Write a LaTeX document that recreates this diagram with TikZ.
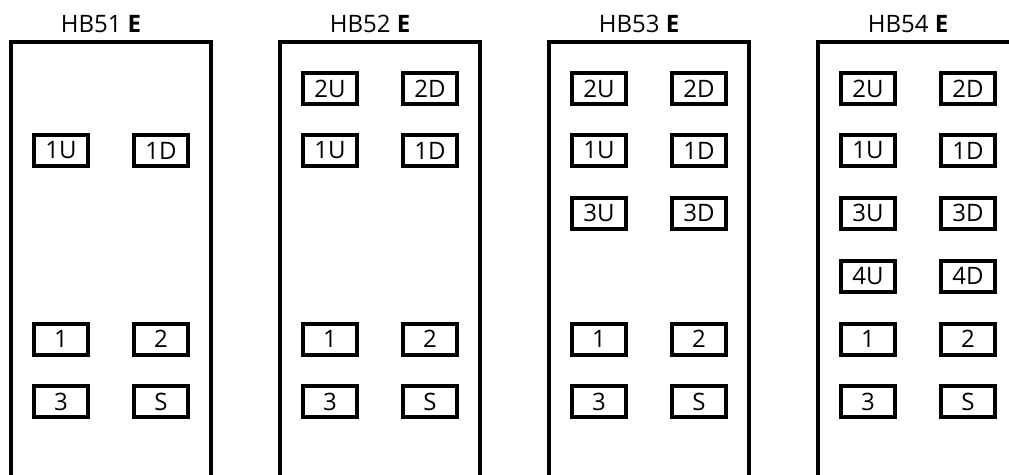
\documentclass[tikz,border=0pt]{standalone}
\usepackage{fontspec}
\setmainfont{Open Sans}
\usetikzlibrary{positioning}
\tikzset{
  panel/.style={line width=4pt},
  fuse/.style={draw, line width=4pt, minimum width=54pt, minimum height=31pt,
    inner sep=0pt, font=\fontsize{24}{26}\selectfont},
  title/.style={anchor=base, inner sep=0pt, font=\fontsize{24}{26}\selectfont},
}

\begin{document}
\begin{tikzpicture}[x=1pt, y=-1pt]
  \clip (0,0) rectangle (1009,474);
  \useasboundingbox (0,0) rectangle (1009,474);

  % Panels with their titles
  \foreach \n/\px in {1/11, 2/280, 3/549, 4/818} {
    \draw[panel] (\px,490) |- (\px+200,41.7) -- (\px+200,490);
    \node[title] (t\n) at (\px+90,32) {HB5\n\ \textbf{E}};
  }

  % HB51
  \foreach \l/\r/\y in {1U/1D/150.5, 1/2/339, 3/S/401.5} {
    \node[fuse] (a-\l) at (61,\y) {\l};
    \node[fuse] (a-\r) at (161,\y) {\r};
  }

  % HB52
  \foreach \l/\r/\y in {2U/2D/88.5, 1U/1D/150.5, 1/2/339, 3/S/401.5} {
    \node[fuse] (b-\l) at (330,\y) {\l};
    \node[fuse] (b-\r) at (430,\y) {\r};
  }

  % HB53
  \foreach \l/\r/\y in {2U/2D/88.5, 1U/1D/150.5, 3U/3D/213, 1/2/339, 3/S/401.5} {
    \node[fuse] (c-\l) at (599,\y) {\l};
    \node[fuse] (c-\r) at (699,\y) {\r};
  }

  % HB54
  \foreach \l/\r/\y in {2U/2D/88.5, 1U/1D/150.5, 3U/3D/213, 4U/4D/276, 1/2/339, 3/S/401.5} {
    \node[fuse] (d-\l) at (868,\y) {\l};
    \node[fuse] (d-\r) at (968,\y) {\r};
  }
\end{tikzpicture}
\end{document}
